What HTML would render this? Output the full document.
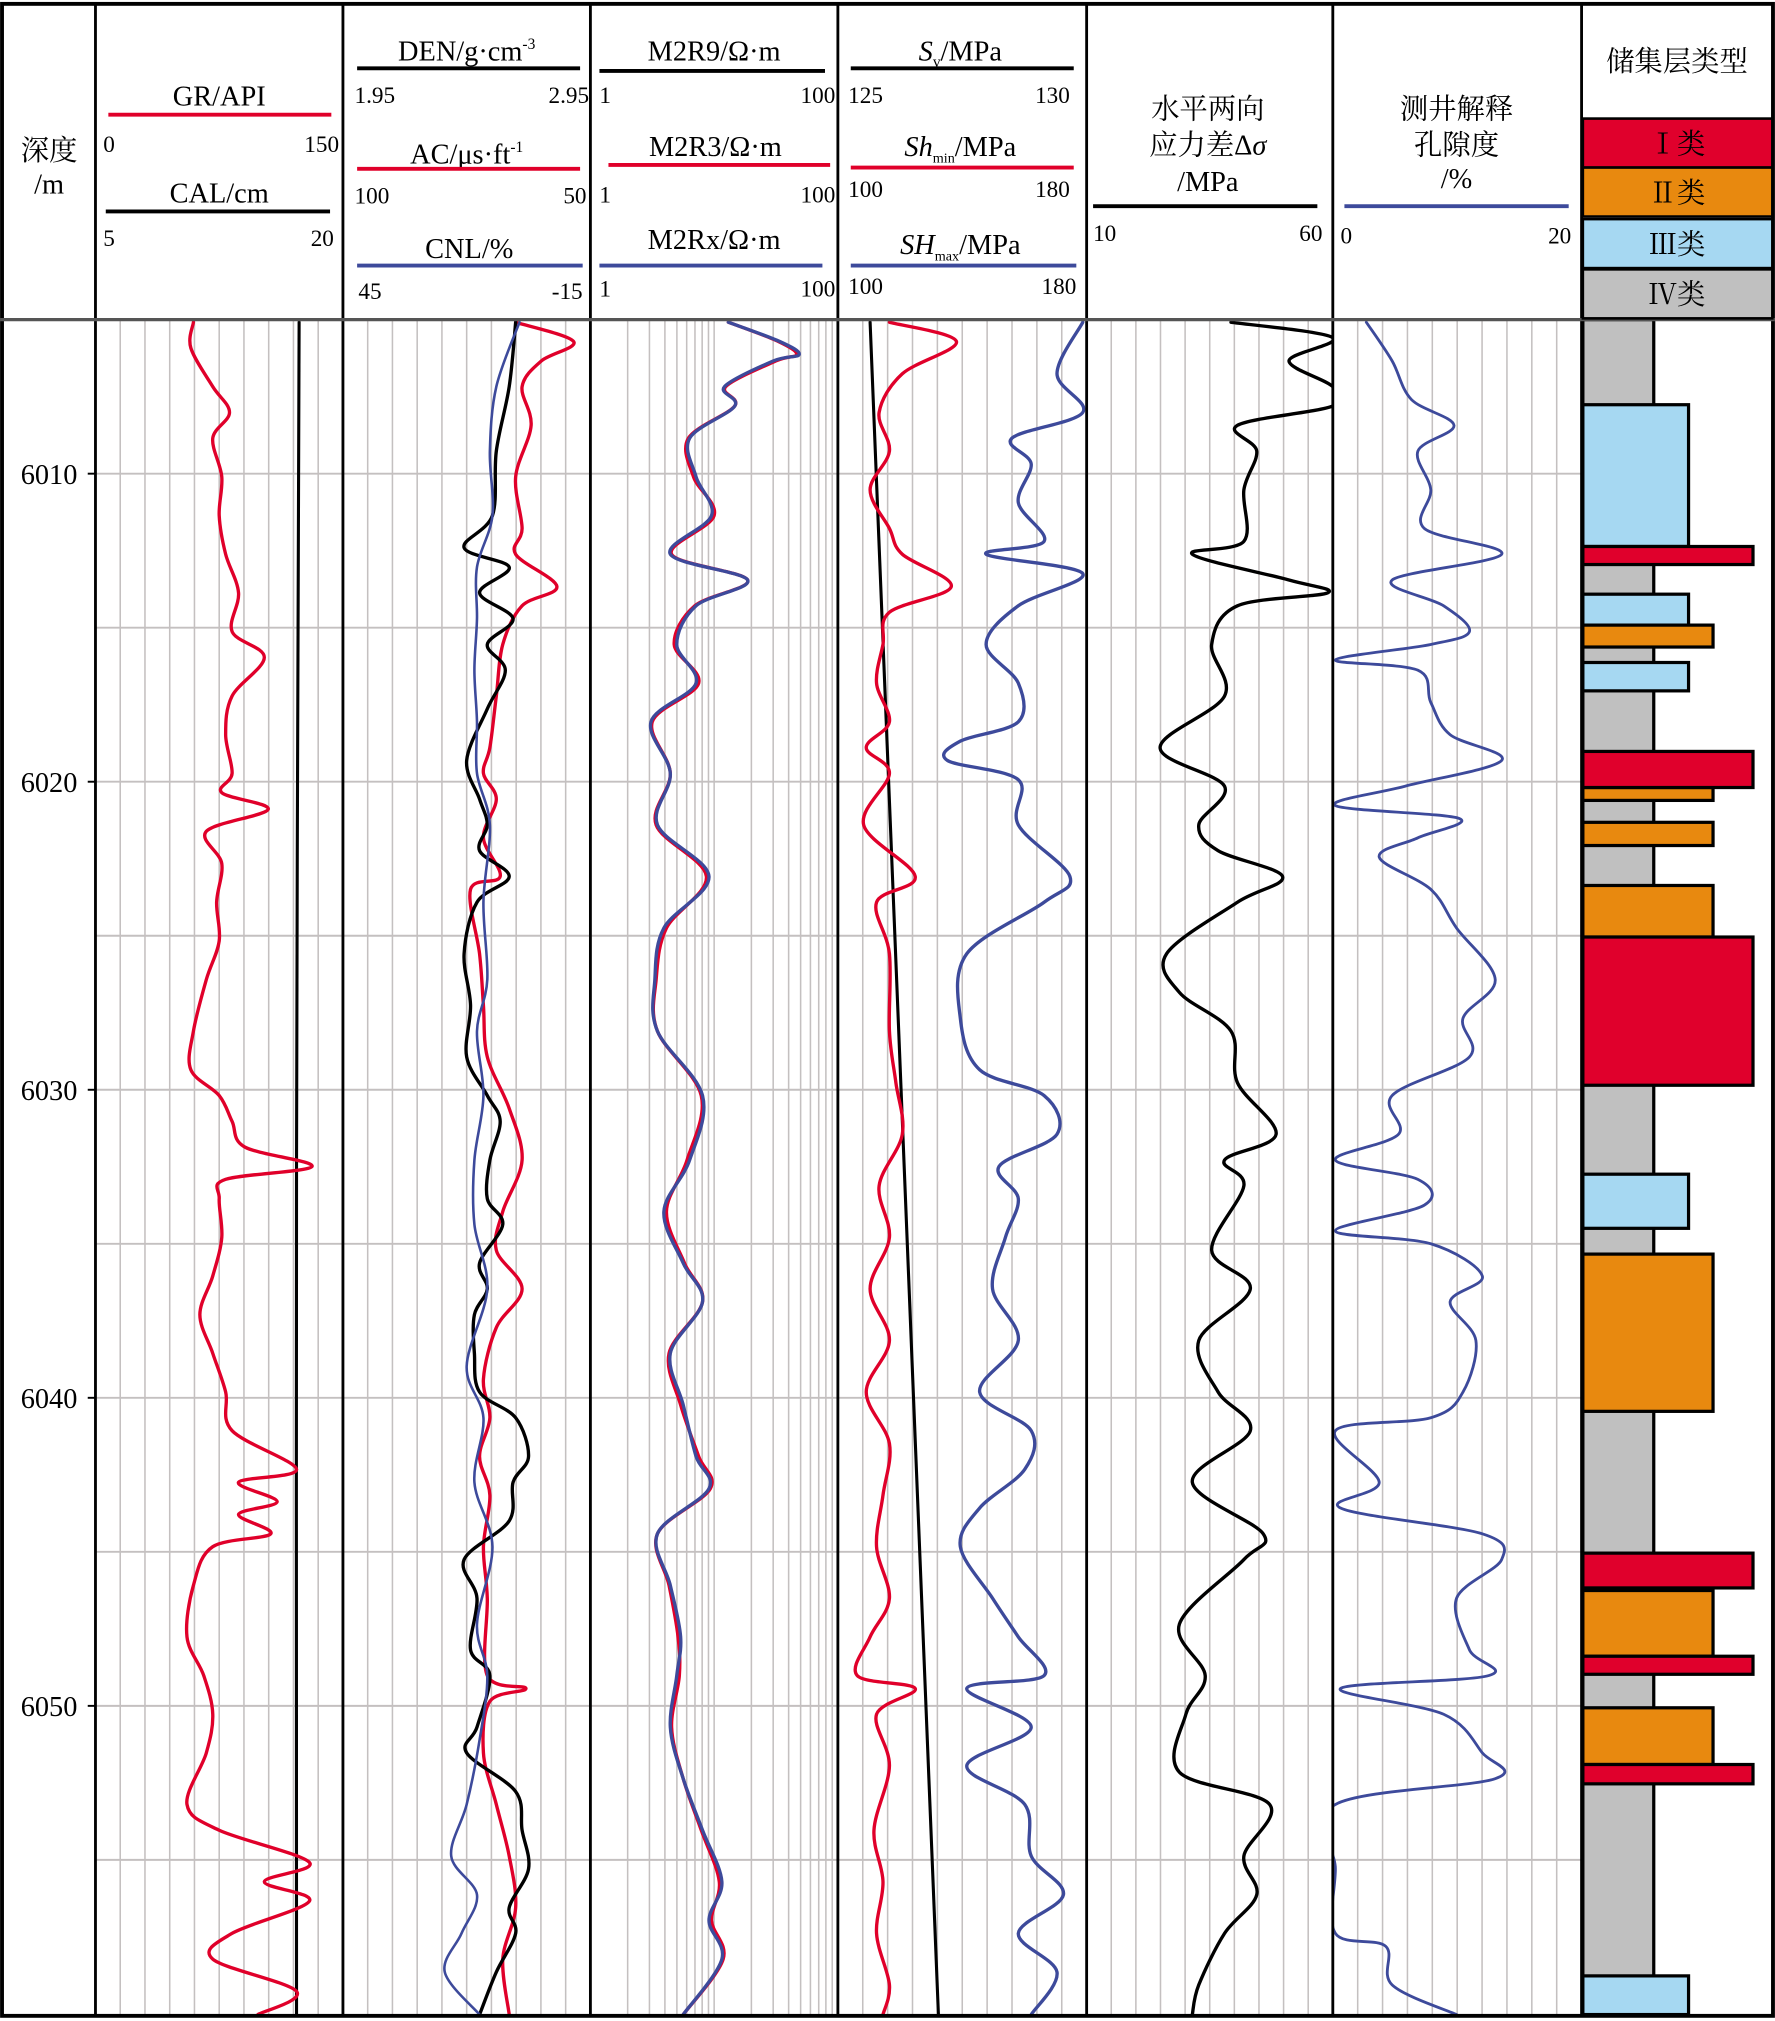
<!DOCTYPE html>
<html><head><meta charset="utf-8">
<style>
html,body{margin:0;padding:0;background:#fff;}
svg{display:block;}
text{font-family:"Liberation Serif","Noto Serif CJK SC","Noto Sans CJK SC",serif;fill:#000;}
</style></head>
<body>
<svg id="s" width="1775" height="2021" viewBox="0 0 1377 1568" xmlns="http://www.w3.org/2000/svg">
<defs id="defs"></defs>
<g id="grid"></g>
<g id="bars"></g>
<g id="curves" fill="none" stroke-linejoin="round" stroke-linecap="round"></g>
<g id="frame" fill="none" stroke="#000"></g>
<g id="hdr" font-size="21"></g>
</svg>
<script>
var NS="http://www.w3.org/2000/svg";
function el(p,t,a,txt){var e=document.createElementNS(NS,t);for(var k in a)e.setAttribute(k,a[k]);if(txt!==undefined)e.innerHTML=txt;document.getElementById(p).appendChild(e);return e;}
var T=248,B=1563,L=[0,74,266,458,650,843,1034,1227,1375];
for(var i=1;i<7;i++){var c=el('defs','clipPath',{id:'c'+i});var r=document.createElementNS(NS,'rect');r.setAttribute('x',L[i]+1);r.setAttribute('y',T);r.setAttribute('width',L[i+1]-L[i]-2);r.setAttribute('height',B-T);c.appendChild(r);}
function Y(d){return T+(d-6005)*23.9;}
for(var t=1;t<=6;t++){
 var a=L[t],b=L[t+1],w=b-a;
 if(t==3){
  for(var dec=0;dec<2;dec++)for(var m=2;m<=9;m++){var x=a+w*(dec+Math.log10(m))/2;el('grid','line',{x1:x,x2:x,y1:T,y2:B,stroke:'#c4c0c0','stroke-width':1.2});}
  el('grid','line',{x1:a+w/2,x2:a+w/2,y1:T,y2:B,stroke:'#c4c0c0','stroke-width':1.2});
 } else {
  for(var i=1;i<10;i++){var x=a+w*i/10;el('grid','line',{x1:x,x2:x,y1:T,y2:B,stroke:'#c4c0c0','stroke-width':1.2});}
 }
}
for(var d=6010;d<6060;d+=5){el('grid','line',{x1:74,x2:1227,y1:Y(d),y2:Y(d),stroke:'#c4c0c0','stroke-width':1.5});}
for(var d=6010;d<=6050;d+=10){el('hdr','text',{x:38,y:Y(d)+8,'text-anchor':'middle','font-size':22},d);
 el('grid','line',{x1:68,x2:74,y1:Y(d),y2:Y(d),stroke:'#000','stroke-width':1.5});}
el('bars','rect',{x:1228,y:T,width:55,height:B-T,fill:'#c0c0c0',stroke:'#000','stroke-width':2.5});
var bars=[[314,424,1310,'#a6d8f2'],[461,485,1310,'#a6d8f2'],[485,502,1329,'#e8890f'],[514,536,1310,'#a6d8f2'],[611,621,1329,'#e8890f'],[583,611,1360,'#e0002c'],[638,656,1329,'#e8890f'],[687,727,1329,'#e8890f'],[727,842,1360,'#e0002c'],[911,953,1310,'#a6d8f2'],[973,1095,1329,'#e8890f'],[1234,1285,1329,'#e8890f'],[1205,1232,1360,'#e0002c'],[1285,1299,1360,'#e0002c'],[1325,1369,1329,'#e8890f'],[1369,1384,1360,'#e0002c'],[1533,1563,1310,'#a6d8f2'],[424,438,1360,'#e0002c']];
bars.forEach(function(b){el('bars','rect',{x:1228,y:b[0],width:b[2]-1228,height:b[1]-b[0],fill:b[3],stroke:'#000','stroke-width':2.5});});
function path(tr,pts,col,sw){
 var p=pts.map(function(q){return [q[1],q[0]];});
 var d='M'+p[0][0]+','+p[0][1];
 for(var i=0;i<p.length-1;i++){
  var p0=p[i-1]||p[i],p1=p[i],p2=p[i+1],p3=p[i+2]||p2;
  var c1x=p1[0]+(p2[0]-p0[0])/6,c1y=p1[1]+(p2[1]-p0[1])/6,c2x=p2[0]-(p3[0]-p1[0])/6,c2y=p2[1]-(p3[1]-p1[1])/6;
  d+='C'+c1x.toFixed(1)+','+c1y.toFixed(1)+' '+c2x.toFixed(1)+','+c2y.toFixed(1)+' '+p2[0]+','+p2[1];
 }
 el('curves','path',{d:d,stroke:col,'stroke-width':sw||2.6,'clip-path':'url(#c'+tr+')'});
}
var R='#e0002a',BL='#3d4a9b',K='#000';
function P(a){var o=[];for(var i=0;i<a.length;i+=2)o.push([a[i],a[i+1]]);return o;}
path(1,P([250,232,900,230,1563,230]),K,2.4);
path(1,P([250,150,270,148,300,165,320,178,340,165,370,172,400,170,430,175,460,185,490,180,510,205,540,180,570,175,600,180,615,172,628,208,645,160,670,172,700,168,730,170,760,160,800,150,830,148,850,170,870,180,890,190,905,242,915,175,930,170,960,172,990,165,1020,155,1050,165,1080,175,1110,180,1140,230,1150,185,1165,215,1175,185,1190,210,1200,165,1230,150,1270,145,1300,158,1330,165,1360,160,1400,145,1420,170,1445,240,1460,205,1475,240,1500,180,1520,165,1545,230,1563,200]),R);
path(2,P([250,400,265,445,280,420,300,405,330,412,370,400,410,405,430,400,455,432,470,405,500,390,540,385,580,380,600,375,620,385,650,375,680,388,690,365,740,372,780,375,820,378,860,395,900,405,940,390,970,385,1000,405,1030,385,1070,375,1100,380,1130,372,1160,380,1200,375,1240,378,1300,378,1310,408,1320,380,1360,375,1400,385,1440,395,1480,400,1520,390,1563,395]),R);
path(2,P([250,400,300,395,350,385,400,382,425,360,440,395,460,372,480,398,500,378,520,392,550,378,590,362,620,372,640,378,660,372,680,395,700,370,740,360,780,365,820,362,850,378,870,388,900,380,930,378,950,390,980,372,1000,378,1020,368,1050,368,1080,372,1100,400,1130,410,1150,398,1180,395,1210,360,1240,370,1280,365,1300,380,1340,370,1360,362,1390,400,1420,405,1450,410,1480,395,1500,400,1530,385,1563,372]),K);
path(2,P([250,403,300,385,350,380,400,382,440,370,480,370,520,368,560,370,600,370,640,380,700,375,760,378,800,370,850,375,900,368,950,368,1000,378,1060,362,1100,375,1150,368,1200,382,1260,370,1300,378,1350,372,1400,362,1440,350,1470,370,1500,358,1530,345,1563,372]),BL,2);
var res=[250,565,265,605,275,620,280,600,300,562,315,570,340,535,370,540,400,552,430,520,450,580,470,540,500,525,530,540,560,505,600,520,640,510,680,550,720,515,760,508,800,510,850,545,900,535,940,515,980,530,1010,545,1050,520,1090,530,1130,540,1155,550,1190,510,1230,520,1270,528,1300,525,1340,520,1380,530,1420,545,1460,560,1490,550,1520,560,1563,530];
var res2=res.slice();for(var i=1;i<res2.length;i+=2)res2[i]+=((i*7)%5)-2;
path(3,P(res2),R);path(3,P(res),BL);
el('curves','line',{x1:675,y1:250,x2:728,y2:1563,stroke:K,'stroke-width':2.4});
path(4,P([250,690,265,742,290,700,320,682,350,690,380,675,410,690,430,700,455,738,475,690,500,685,530,680,560,690,580,672,600,690,640,670,680,710,700,680,740,690,800,690,840,695,880,700,920,682,960,690,1000,675,1040,690,1080,672,1120,690,1160,685,1200,680,1240,690,1270,675,1300,665,1310,710,1330,680,1370,690,1420,678,1460,685,1500,680,1540,690,1563,685]),R);
path(4,P([250,840,290,820,320,840,340,785,360,800,390,790,420,810,430,765,445,840,470,790,500,765,530,790,560,790,575,745,590,735,605,790,640,790,680,830,700,810,740,750,790,745,830,760,850,810,880,820,905,775,930,790,960,780,1000,770,1040,790,1080,760,1110,800,1140,795,1170,760,1200,745,1240,770,1270,790,1300,810,1310,750,1340,800,1370,750,1400,795,1440,800,1470,825,1500,790,1530,820,1563,800]),BL);
path(5,P([250,955,262,1034,280,1000,300,1034,315,1034,330,960,350,975,380,965,420,965,430,925,450,1000,460,1030,470,960,500,940,540,950,580,900,610,950,640,930,660,945,680,995,700,960,740,905,770,915,800,955,840,960,880,990,900,950,920,965,970,940,1000,970,1040,930,1080,945,1110,970,1150,925,1190,980,1210,965,1260,915,1300,935,1330,920,1375,915,1400,985,1440,965,1470,975,1500,950,1540,930,1563,925]),K);
path(6,P([250,1060,280,1080,310,1095,330,1128,350,1100,380,1110,410,1105,430,1165,450,1080,470,1120,490,1140,500,1110,512,1036,520,1100,545,1110,570,1125,590,1165,610,1090,625,1036,635,1132,650,1100,665,1070,690,1110,720,1130,760,1160,790,1135,820,1140,850,1080,880,1085,900,1036,915,1100,935,1105,955,1036,965,1110,990,1150,1010,1125,1040,1145,1080,1135,1100,1110,1110,1036,1150,1070,1170,1040,1190,1150,1210,1165,1240,1130,1280,1140,1300,1155,1310,1040,1330,1120,1360,1150,1380,1160,1400,1036,1450,1036,1500,1036,1510,1075,1540,1080,1563,1130]),BL,2.2);
el('frame','rect',{x:1.5,y:3,width:1374,height:1561,'stroke-width':3});
for(var i=1;i<8;i++)el('frame','line',{x1:L[i],x2:L[i],y1:3,y2:1564,'stroke-width':2.2});
el('frame','line',{x1:0,x2:1377,y1:248,y2:248,stroke:'#555','stroke-width':2.5});
function tx(x,y,s,anc,fs){return el('hdr','text',{x:x,y:y,'text-anchor':anc||'middle','font-size':fs||22},s);}
function ln(x1,x2,y,c){el('hdr','line',{x1:x1,x2:x2,y1:y,y2:y,stroke:c,'stroke-width':3});}
tx(38,124,'深度');tx(38,150,'/m');
tx(170,82,'GR/API');ln(84,257,89,R);tx(80,118,'0','start',18);tx(263,118,'150','end',18);
tx(170,157,'CAL/cm');ln(82,256,164,K);tx(80,191,'5','start',18);tx(259,191,'20','end',18);
tx(362,47,'DEN/g·cm<tspan font-size="12" dy="-9">-3</tspan>');ln(277,450,53,K);tx(275,80,'1.95','start',18);tx(457,80,'2.95','end',18);
tx(362,127,'AC/μs·ft<tspan font-size="12" dy="-9">-1</tspan>');ln(277,450,131,R);tx(275,158,'100','start',18);tx(455,158,'50','end',18);
tx(364,200,'CNL/%');ln(277,452,206,BL);tx(278,232,'45','start',18);tx(452,232,'-15','end',18);
tx(554,47,'M2R9/Ω·m');ln(465,640,55,K);tx(465,80,'1','start',18);tx(648,80,'100','end',18);
tx(555,121,'M2R3/Ω·m');ln(472,644,128,R);tx(465,157,'1','start',18);tx(648,157,'100','end',18);
tx(554,193,'M2Rx/Ω·m');ln(465,638,206,BL);tx(465,230,'1','start',18);tx(648,230,'100','end',18);
tx(745,47,'<tspan font-style="italic">S</tspan><tspan font-size="12" dy="5">v</tspan><tspan dy="-5">/MPa</tspan>');ln(660,833,53,K);tx(658,80,'125','start',18);tx(830,80,'130','end',18);
tx(745,121,'<tspan font-style="italic">Sh</tspan><tspan font-size="11" dy="5">min</tspan><tspan dy="-5">/MPa</tspan>');ln(660,833,130,R);tx(658,153,'100','start',18);tx(830,153,'180','end',18);
tx(745,197,'<tspan font-style="italic">SH</tspan><tspan font-size="11" dy="5">max</tspan><tspan dy="-5">/MPa</tspan>');ln(660,835,206,BL);tx(658,228,'100','start',18);tx(835,228,'180','end',18);
tx(937,92,'水平两向');tx(937,120,'应力差Δ<tspan font-style="italic">σ</tspan>');tx(937,148,'/MPa');ln(848,1022,160,K);tx(848,187,'10','start',18);tx(1026,187,'60','end',18);
tx(1130,92,'测井解释');tx(1130,120,'孔隙度');tx(1130,146,'/%');ln(1043,1217,160,BL);tx(1040,189,'0','start',18);tx(1219,189,'20','end',18);
tx(1301,55,'储集层类型');
var hb=[[92,130,'#e0002c','Ⅰ类'],[130,168,'#e8890f','Ⅱ类'],[170,208,'#a6d8f2','Ⅲ类'],[209,247,'#c0c0c0','Ⅳ类']];
hb.forEach(function(h){el('hdr','rect',{x:1228,y:h[0],width:147,height:h[1]-h[0],fill:h[2],stroke:'#000','stroke-width':2});tx(1301,h[0]+27,h[3]);});
</script>
</body></html>
